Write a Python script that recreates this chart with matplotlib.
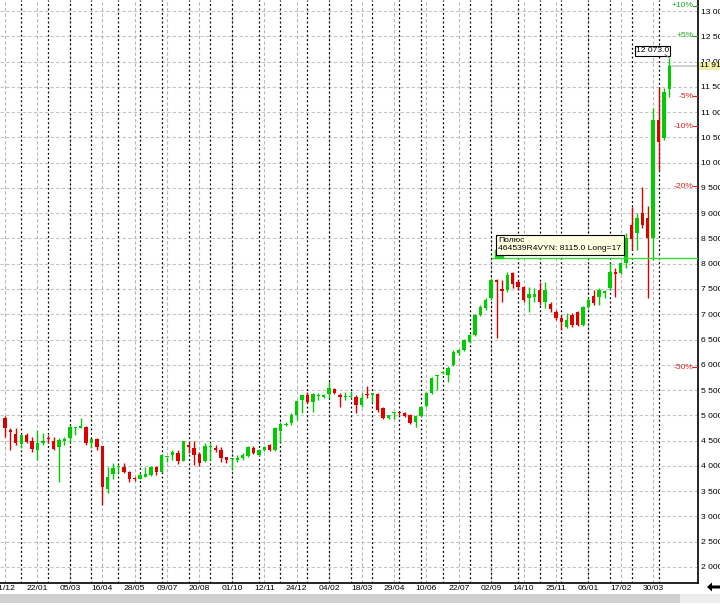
import matplotlib
matplotlib.use('Agg')
import matplotlib.pyplot as plt
import numpy as np
import pandas as pd
from matplotlib.patches import Rectangle, Polygon

plt.rcParams['font.family'] = ['Liberation Sans Narrow', 'Liberation Sans', 'DejaVu Sans']

## --- weekly candles
start_date = '2013-12-11'
opens = [4948, 4711, 4632, 4434, 4612, 4493, 4315, 4454, 4540, 4493,
         4374, 4493, 4552, 4740, 4750, 4770, 4454, 4533, 4394, 3543,
         3840, 3970, 3979, 3880, 3750, 3741, 3781, 3821, 3979, 3880,
         4177, 4216, 4256, 4098, 4414, 4355, 4236, 4098, 4374, 4355,
         4315, 4177, 4130, 4117, 4157, 4197, 4355, 4216, 4315, 4414,
         4315, 4691, 4810, 4850, 5008, 5304, 5403, 5265, 5380, 5363,
         5423, 5522, 5403, 5355, 5355, 5363, 5205, 5410, 5410, 5423,
         5146, 4948, 5040, 5067, 5047, 5008, 4869, 4988, 5185, 5443,
         5780, 5838, 5799, 5997, 6234, 6294, 6452, 6590, 6986, 7124,
         7322, 7678, 7490, 7480, 7817, 7639, 7540, 7322, 7342, 7480,
         7243, 7204, 7045, 6927, 6749, 6986, 7045, 6788, 7144, 7362,
         7342, 7421, 7520, 7837, 7817, 8015, 8767, 8608, 9004, 8905,
         8509, 10844, 10488, 11457]
highs = [4990, 4750, 4750, 4612, 4650, 4572, 4711, 4650, 4612, 4572,
         4550, 4572, 4810, 4770, 4948, 4790, 4540, 4552, 4400, 3979,
         4058, 4020, 4058, 3890, 3781, 3860, 3979, 3999, 3999, 4230,
         4180, 4315, 4315, 4500, 4473, 4493, 4276, 4454, 4454, 4414,
         4374, 4180, 4140, 4216, 4250, 4400, 4394, 4340, 4400, 4440,
         4770, 4870, 4870, 5047, 5304, 5403, 5462, 5440, 5443, 5420,
         5660, 5542, 5443, 5462, 5482, 5403, 5443, 5581, 5443, 5443,
         5166, 5008, 5067, 5067, 5067, 5020, 5008, 5185, 5462, 5760,
         5800, 5880, 5977, 6290, 6320, 6520, 6610, 7000, 7180, 7322,
         7718, 7700, 7678, 7837, 7837, 7678, 7560, 7540, 7520, 7639,
         7639, 7243, 7085, 6986, 7025, 7025, 7065, 7164, 7322, 7480,
         7520, 7480, 8015, 7916, 8035, 8608, 9123, 9004, 9518, 9150,
         11081, 11477, 11477, 12073]
lows = [4572, 4315, 4414, 4355, 4450, 4276, 4117, 4414, 4454, 4315,
        3682, 4414, 4473, 4612, 4740, 4414, 4355, 4315, 3227, 3464,
        3741, 3860, 3860, 3682, 3700, 3735, 3775, 3800, 3821, 3870,
        4078, 4117, 4038, 4090, 4256, 4018, 3999, 4078, 4117, 4276,
        4078, 4058, 3939, 4078, 4120, 4170, 4230, 4190, 4290, 4300,
        4300, 4473, 4790, 4810, 4909, 5047, 5245, 5067, 5304, 5340,
        5344, 5430, 5166, 5304, 5340, 5047, 5166, 5344, 5265, 5067,
        4929, 4929, 4929, 5008, 4970, 4830, 4770, 4970, 5166, 5420,
        5502, 5820, 5660, 5977, 6200, 6270, 6430, 6570, 6960, 7085,
        7283, 6531, 7243, 7440, 7520, 7480, 7243, 7045, 7243, 7184,
        7124, 7045, 6887, 6689, 6730, 6749, 6769, 6769, 7124, 7184,
        7184, 7322, 7480, 7342, 7797, 7916, 8272, 8272, 8707, 7322,
        8074, 9855, 10449, 11299]
closes = [4750, 4671, 4454, 4612, 4473, 4335, 4454, 4493, 4525, 4335,
          4513, 4533, 4770, 4755, 4790, 4454, 4533, 4374, 3583, 3781,
          3959, 3985, 3880, 3741, 3735, 3821, 3840, 3979, 3880, 4216,
          4180, 4276, 4098, 4493, 4374, 4216, 4058, 4394, 4385, 4315,
          4157, 4117, 4140, 4157, 4216, 4374, 4256, 4315, 4374, 4315,
          4750, 4830, 4830, 5008, 5285, 5403, 5265, 5423, 5390, 5403,
          5542, 5443, 5363, 5370, 5370, 5205, 5344, 5395, 5423, 5107,
          4948, 5008, 5050, 5047, 4988, 4850, 4988, 5166, 5443, 5740,
          5800, 5858, 5937, 6254, 6294, 6491, 6590, 6986, 7144, 7283,
          7678, 7638, 7470, 7777, 7599, 7540, 7283, 7401, 7401, 7243,
          7480, 7105, 6927, 6848, 6887, 6788, 6788, 7144, 7283, 7224,
          7480, 7461, 7837, 7797, 8015, 8509, 8490, 8905, 8767, 8509,
          10844, 10409, 11398, 11913]

entry_bar = 91
entry_price = 8115.0
pct_levels = [10, 5, -5, -10, -20, -50]
tooltip_text = ['Полюс', '464539R4VYN: 8115.0 Long=17']
y_ticks = list(range(2000, 13001, 500))

o = np.array(opens, dtype=float)
h = np.array(highs, dtype=float)
l = np.array(lows, dtype=float)
c = np.array(closes, dtype=float)
n = len(o)
idx = np.arange(n)
dates = pd.date_range(start_date, periods=n, freq='W-WED')
last = c[-1]

up_col = '#00cc00'
dn_col = '#dd0000'
fs = 6.1

fig = plt.figure(figsize=(7.2, 6.06), dpi=100)
ax = fig.add_axes([0, 23 / 606, 698 / 720, 583 / 606])
ax.set_xlim(-0.93, 128.3)
ax.set_ylim(1683, 13218)

# grid: horizontal dashed, vertical dashed at labels, black dotted at month starts
for v in y_ticks:
    ax.axhline(v, color='#c4c4c4', lw=0.8, ls=(0, (3, 2)), zorder=0)
label_pos = idx[::6]
for i in label_pos:
    ax.axvline(i, color='#b8b8b8', lw=0.8, ls=(0, (3, 2)), zorder=0)
month_first = [i for i in range(1, n) if dates[i].month != dates[i - 1].month]
for i in month_first:
    ax.axvline(i, color='black', lw=0.9, ls=(0, (1.5, 2)), zorder=1)

# candles
col = np.where(c >= o, up_col, dn_col)
ax.vlines(idx, l, h, colors=col, lw=1.0, zorder=3)
body = np.maximum(np.abs(c - o), 25)
ax.bar(idx, body, bottom=np.minimum(o, c), width=0.62, color=col, lw=0, zorder=4)

# long position line + marker + tooltip
ax.plot([entry_bar - 0.8, ax.get_xlim()[1]], [entry_price, entry_price],
        color='#33dd33', lw=1.0, zorder=5)
ax.add_patch(Rectangle((entry_bar - 0.35, entry_price), 1.6, 160,
                       color='#22cc22', zorder=5))
ax.text(entry_bar + 0.3, 8372, '\n'.join(tooltip_text), fontsize=fs,
        ha='left', va='center', linespacing=1.2, zorder=7,
        bbox=dict(boxstyle='square,pad=0.3', fc='#ffffe1', ec='black', lw=0.8))

# last price marker
ax.plot([n - 1, ax.get_xlim()[1]], [last, last], color='#c8c8c8', lw=1.2, zorder=2)
ax.text(n - 4.1, 12209, '12 073.0', fontsize=fs, ha='center', va='center', zorder=7,
        bbox=dict(boxstyle='square,pad=0.15', fc='white', ec='black', lw=0.8))
ax.plot([n - 1.8, n - 1], [12140, h[-1]], color='#707070', lw=0.7, zorder=7)

# percent levels from last close
ytr = ax.get_yaxis_transform()
for p in pct_levels:
    yv = last * (1 + p / 100)
    cc = '#22aa22' if p > 0 else '#dd2222'
    ax.text(0.9935, yv, '%+d%%' % p, color=cc, fontsize=fs, ha='right', va='center',
            transform=ytr, zorder=6)
    ax.plot([0.9935, 1.0], [yv, yv], color=cc, lw=0.8, transform=ytr, zorder=6)

# axes
for s in ['left', 'top']:
    ax.spines[s].set_visible(False)
ax.spines['right'].set_linewidth(1.2)
ax.spines['bottom'].set_linewidth(1.2)
ax.yaxis.tick_right()
ax.set_yticks(y_ticks)
ax.set_yticklabels([('{:,}'.format(v)).replace(',', ' ') for v in y_ticks], fontsize=fs)
ax.tick_params(axis='y', length=0, pad=2)
ax.set_xticks(label_pos)
ax.set_xticklabels([d.strftime('%d/%m') for d in dates[label_pos]], fontsize=fs)
ax.tick_params(axis='x', length=0, pad=1.5)
ax.text(1.003, last, '{:,}'.format(int(last)).replace(',', ' '), transform=ytr,
        fontsize=fs, ha='left', va='center', zorder=8,
        bbox=dict(boxstyle='square,pad=0.1', fc='#eeeeaa', ec='none'))

# scrollbar strip at the bottom
fig.patches.append(Rectangle((0, 3 / 606), 680 / 720, 9 / 606, transform=fig.transFigure,
                             fc='#d0d0d0', ec='none'))
fig.patches.append(Rectangle((680 / 720, 3 / 606), 40 / 720, 9 / 606, transform=fig.transFigure,
                             fc='#ececec', ec='none'))
arrow = [(707, 587), (712, 582.5), (712, 585.5), (720, 585.5), (720, 588.5), (712, 588.5), (712, 591.5)]
fig.patches.append(Polygon([(x / 720, 1 - y / 606) for x, y in arrow], closed=True,
                           transform=fig.transFigure, fc='black', ec='none'))

fig.savefig('out.png', dpi=100)
